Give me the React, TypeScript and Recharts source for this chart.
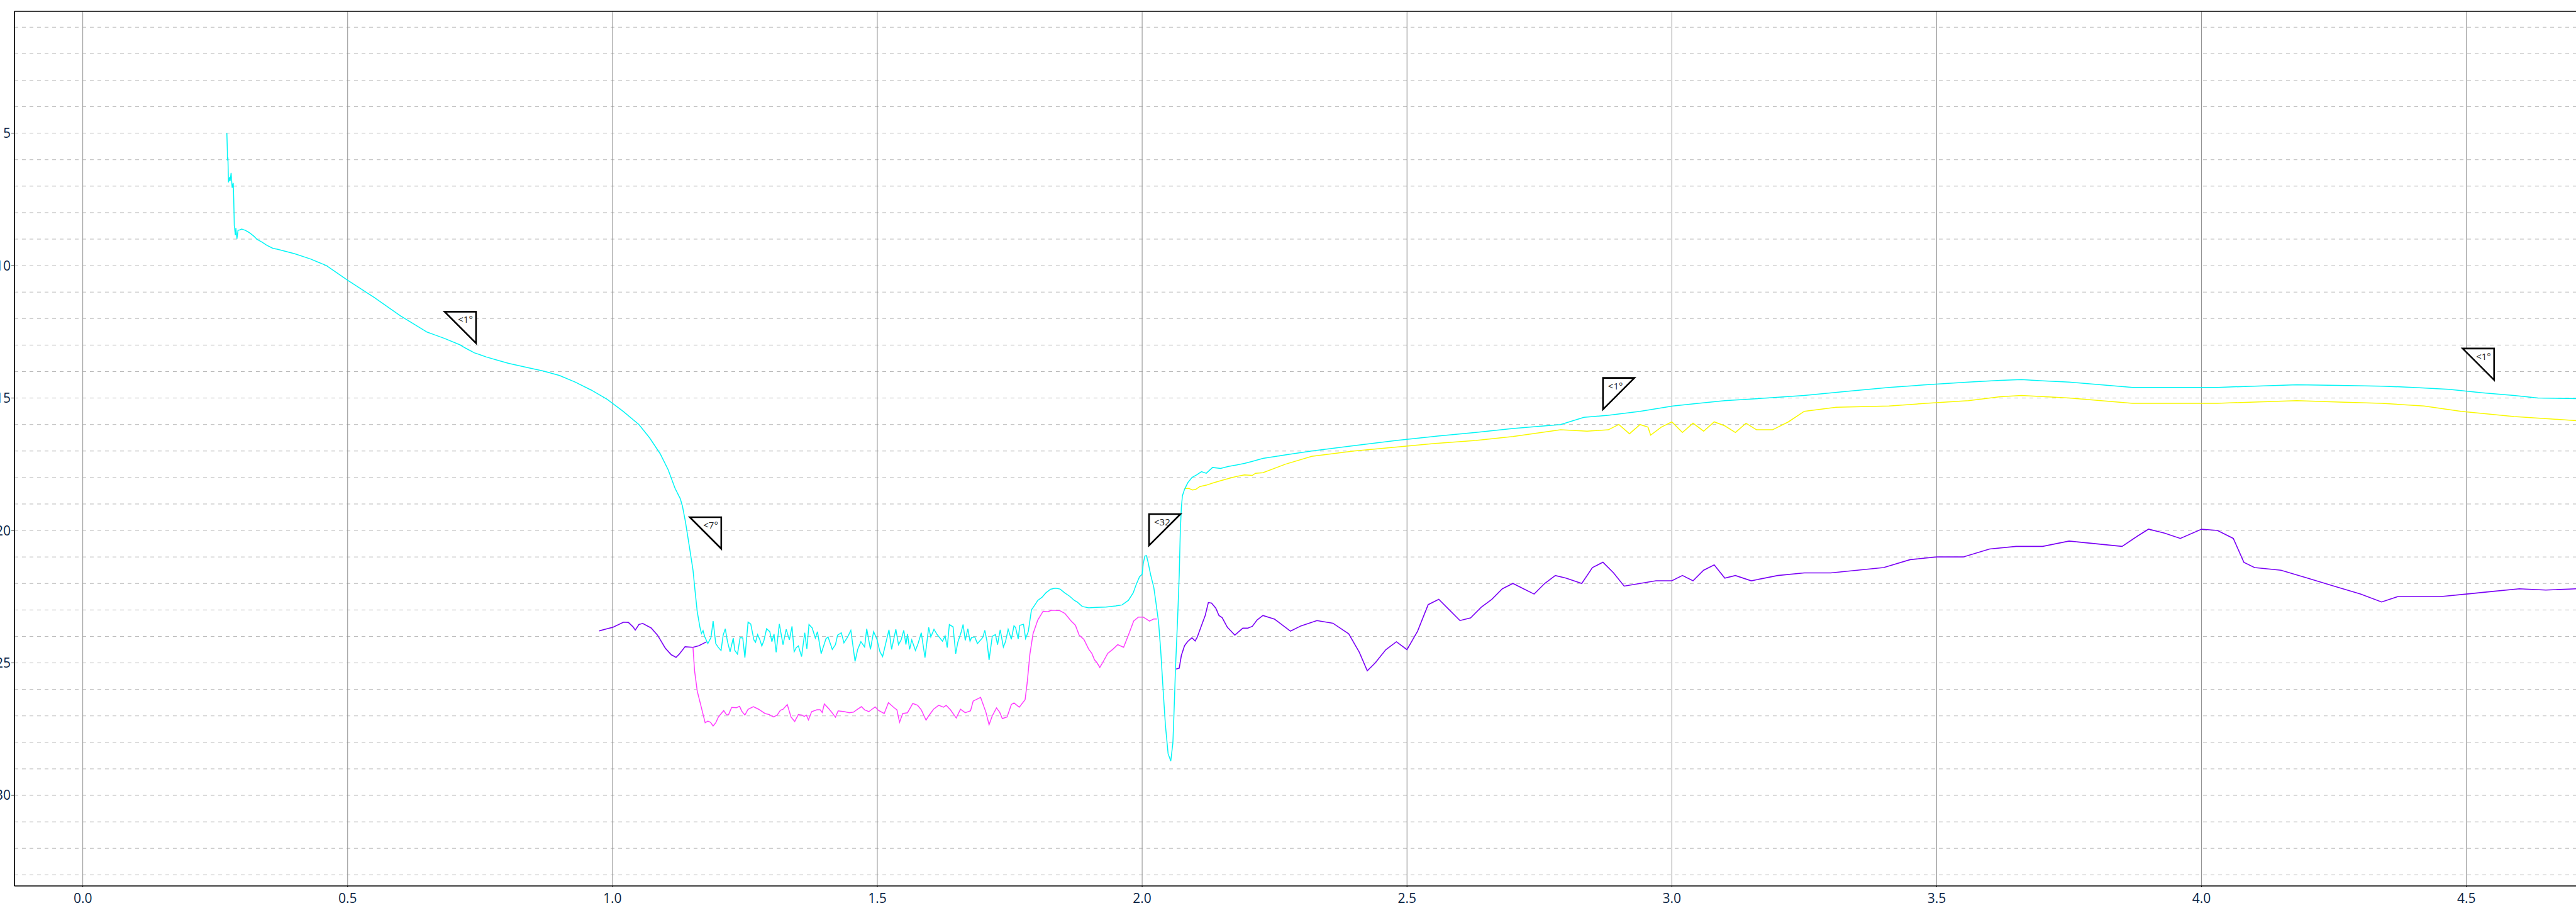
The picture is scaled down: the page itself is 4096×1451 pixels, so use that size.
import { ComposedChart, Line, XAxis, YAxis, CartesianGrid, ReferenceLine, ReferenceDot } from 'recharts';

const W = 4096;
const H = 1451;

const xTicks = [0, 0.5, 1, 1.5, 2, 2.5, 3, 3.5, 4, 4.5];
const yTicks = [5, 10, 15, 20, 25, 30];
const yGrid = [1, 2, 3, 4, 5, 6, 7, 8, 9, 10, 11, 12, 13, 14, 15, 16, 17, 18, 19, 20, 21, 22, 23, 24, 25, 26, 27, 28, 29, 30, 31, 32, 33];

// [x, y] pairs
const cyan = [
  [0.272, 5.0], [0.273, 5.72], [0.273, 6.03], [0.274, 5.92], [0.275, 6.86], [0.277, 6.66], [0.278, 6.81], [0.28, 6.5],
  [0.282, 7.06], [0.284, 6.88], [0.285, 7.51], [0.286, 8.49], [0.288, 8.85], [0.289, 8.58], [0.291, 8.99], [0.293, 8.67],
  [0.297, 8.65], [0.3, 8.62], [0.307, 8.67], [0.314, 8.75], [0.323, 8.89], [0.329, 9.01], [0.339, 9.12], [0.347, 9.23],
  [0.359, 9.35], [0.367, 9.38], [0.4, 9.55], [0.43, 9.75], [0.46, 10.0], [0.5, 10.55], [0.55, 11.2], [0.6, 11.9],
  [0.65, 12.51], [0.661, 12.59], [0.683, 12.75], [0.712, 12.99], [0.722, 13.11], [0.739, 13.29], [0.762, 13.45], [0.784, 13.58],
  [0.804, 13.69], [0.84, 13.85], [0.87, 13.98], [0.9, 14.15], [0.93, 14.4], [0.96, 14.7], [0.99, 15.05], [1.02, 15.5],
  [1.05, 16.0], [1.07, 16.5], [1.09, 17.1], [1.105, 17.7], [1.118, 18.4], [1.128, 18.8], [1.132, 19.07], [1.138, 19.7],
  [1.145, 20.59], [1.152, 21.49], [1.156, 22.3], [1.16, 23.06], [1.165, 23.64], [1.168, 23.89], [1.171, 23.78], [1.174, 24.0],
  [1.18, 24.27], [1.186, 24.04], [1.19, 23.42], [1.195, 24.27], [1.2, 24.42], [1.205, 24.53], [1.209, 23.95], [1.213, 23.71],
  [1.217, 24.18], [1.222, 24.58], [1.228, 24.06], [1.231, 24.53], [1.236, 24.67], [1.241, 24.04], [1.246, 24.06], [1.25, 24.8],
  [1.256, 23.46], [1.261, 23.53], [1.267, 24.13], [1.27, 24.22], [1.274, 23.93], [1.278, 24.11], [1.282, 24.36], [1.286, 24.15],
  [1.291, 23.71], [1.297, 23.82], [1.301, 24.2], [1.305, 23.91], [1.309, 24.6], [1.315, 23.53], [1.322, 24.31], [1.328, 23.73],
  [1.334, 24.13], [1.339, 23.62], [1.343, 24.58], [1.347, 24.42], [1.351, 24.36], [1.357, 24.76], [1.363, 23.86], [1.367, 24.47],
  [1.371, 23.55], [1.377, 23.68], [1.383, 24.06], [1.387, 23.82], [1.394, 24.65], [1.403, 24.09], [1.407, 24.02], [1.415, 24.49],
  [1.421, 24.31], [1.425, 23.95], [1.432, 23.86], [1.437, 24.24], [1.444, 24.02], [1.45, 23.77], [1.458, 24.94], [1.463, 24.49],
  [1.469, 24.2], [1.476, 24.4], [1.48, 23.71], [1.487, 24.49], [1.493, 23.82], [1.499, 24.09], [1.505, 24.58], [1.51, 24.76],
  [1.522, 23.75], [1.527, 24.49], [1.535, 23.73], [1.54, 24.31], [1.545, 24.13], [1.55, 23.77], [1.554, 24.31], [1.557, 23.91],
  [1.561, 24.49], [1.565, 24.13], [1.572, 24.53], [1.577, 24.27], [1.583, 23.86], [1.59, 24.8], [1.597, 23.66], [1.601, 24.02],
  [1.607, 23.73], [1.613, 23.93], [1.623, 24.18], [1.628, 23.98], [1.632, 24.42], [1.636, 23.55], [1.643, 23.64], [1.648, 24.65],
  [1.652, 24.22], [1.658, 23.86], [1.662, 23.55], [1.666, 24.15], [1.671, 23.71], [1.675, 24.18], [1.678, 24.04], [1.684, 24.02],
  [1.689, 24.27], [1.693, 24.18], [1.699, 24.04], [1.703, 23.77], [1.707, 24.18], [1.711, 24.89], [1.717, 24.0], [1.723, 23.93],
  [1.727, 24.31], [1.732, 23.75], [1.738, 24.4], [1.742, 24.2], [1.747, 23.73], [1.753, 24.11], [1.758, 23.6], [1.761, 23.66],
  [1.766, 24.1], [1.769, 23.58], [1.776, 23.54], [1.78, 24.08], [1.785, 23.82], [1.791, 23.0], [1.796, 22.85], [1.803, 22.64],
  [1.811, 22.52], [1.818, 22.36], [1.827, 22.22], [1.836, 22.18], [1.845, 22.21], [1.854, 22.36], [1.863, 22.48], [1.872, 22.64],
  [1.878, 22.71], [1.887, 22.87], [1.899, 22.92], [1.914, 22.9], [1.932, 22.89], [1.95, 22.85], [1.962, 22.81], [1.974, 22.64],
  [1.983, 22.36], [1.989, 22.03], [1.995, 21.75], [2.0, 21.65], [2.002, 21.26], [2.005, 20.97], [2.008, 20.95], [2.011, 21.18],
  [2.016, 21.67], [2.022, 22.15], [2.026, 22.72], [2.031, 23.46], [2.035, 24.52], [2.04, 26.15], [2.044, 27.37], [2.049, 28.43],
  [2.052, 28.59], [2.054, 28.71], [2.058, 28.02], [2.06, 26.96], [2.063, 25.17], [2.067, 23.3], [2.07, 21.67], [2.072, 20.04],
  [2.074, 19.14], [2.076, 18.69], [2.08, 18.45], [2.086, 18.2], [2.094, 18.0], [2.103, 17.9], [2.112, 17.78], [2.121, 17.84],
  [2.133, 17.62], [2.148, 17.66], [2.163, 17.58], [2.178, 17.53], [2.193, 17.47], [2.208, 17.39], [2.228, 17.28], [2.27, 17.15],
  [2.32, 17.0], [2.4, 16.8], [2.48, 16.6], [2.55, 16.45], [2.63, 16.3], [2.7, 16.15], [2.79, 16.0], [2.834, 15.73],
  [2.88, 15.65], [2.94, 15.5], [3.002, 15.3], [3.05, 15.2], [3.1, 15.1], [3.18, 15.0], [3.25, 14.9], [3.33, 14.75],
  [3.41, 14.6], [3.48, 14.5], [3.56, 14.4], [3.62, 14.33], [3.66, 14.3], [3.7, 14.35], [3.75, 14.4], [3.81, 14.5],
  [3.87, 14.6], [3.94, 14.6], [4.03, 14.6], [4.1, 14.55], [4.18, 14.5], [4.26, 14.52], [4.34, 14.55], [4.4, 14.6],
  [4.467, 14.67], [4.53, 14.8], [4.59, 14.9], [4.635, 15.0], [4.707, 15.02],
];

const magenta = [
  [1.152, 24.41], [1.155, 25.3], [1.16, 26.06], [1.175, 27.26], [1.18, 27.2], [1.185, 27.24], [1.19, 27.38], [1.195, 27.26],
  [1.2, 27.04], [1.21, 26.8], [1.215, 26.95], [1.219, 26.96], [1.225, 26.68], [1.234, 26.69], [1.24, 26.64], [1.244, 26.82],
  [1.25, 26.97], [1.256, 26.75], [1.266, 26.65], [1.276, 26.75], [1.288, 26.91], [1.296, 26.95], [1.304, 27.04], [1.311, 26.97],
  [1.317, 26.79], [1.322, 26.75], [1.33, 26.57], [1.337, 27.04], [1.344, 27.21], [1.351, 26.95], [1.358, 26.97], [1.362, 27.02],
  [1.366, 26.97], [1.37, 27.15], [1.376, 26.84], [1.386, 26.77], [1.392, 26.77], [1.396, 26.87], [1.4, 26.55], [1.407, 26.7],
  [1.413, 26.84], [1.421, 27.05], [1.426, 26.81], [1.438, 26.84], [1.447, 26.88], [1.455, 26.86], [1.461, 26.77], [1.47, 26.65],
  [1.476, 26.77], [1.484, 26.84], [1.496, 26.66], [1.502, 26.79], [1.513, 26.91], [1.521, 26.5], [1.531, 26.68], [1.537, 26.77],
  [1.542, 27.24], [1.548, 26.91], [1.557, 26.88], [1.567, 26.53], [1.576, 26.6], [1.583, 26.77], [1.592, 27.16], [1.597, 27.0],
  [1.606, 26.75], [1.616, 26.6], [1.625, 26.67], [1.63, 26.6], [1.638, 26.77], [1.649, 27.08], [1.657, 26.75], [1.666, 26.88],
  [1.676, 26.81], [1.681, 26.44], [1.695, 26.3], [1.705, 26.86], [1.711, 27.33], [1.717, 27.0], [1.725, 26.7], [1.731, 26.86],
  [1.736, 27.1], [1.745, 27.04], [1.753, 26.57], [1.758, 26.51], [1.768, 26.67], [1.779, 26.39], [1.783, 25.74], [1.788, 24.68],
  [1.794, 23.9], [1.803, 23.38], [1.813, 23.05], [1.822, 23.07], [1.829, 23.01], [1.845, 23.03], [1.854, 23.13], [1.866, 23.42],
  [1.874, 23.58], [1.881, 23.95], [1.89, 24.11], [1.899, 24.48], [1.905, 24.64], [1.91, 24.88], [1.915, 25.0], [1.92, 25.17],
  [1.924, 25.04], [1.935, 24.64], [1.945, 24.48], [1.954, 24.31], [1.965, 24.41], [1.975, 23.9], [1.984, 23.42], [1.993, 23.27],
  [2.002, 23.27], [2.014, 23.42], [2.022, 23.34], [2.028, 23.34],
];

const purpleEarly = [
  [0.975, 23.79], [0.992, 23.7], [1.0, 23.66], [1.021, 23.46], [1.03, 23.47], [1.039, 23.64], [1.043, 23.76], [1.05, 23.55],
  [1.057, 23.51], [1.073, 23.68], [1.085, 23.95], [1.1, 24.45], [1.111, 24.69], [1.12, 24.79], [1.126, 24.67], [1.137, 24.39],
  [1.152, 24.41], [1.163, 24.35], [1.178, 24.2],
];

const purpleLate = [
  [2.064, 25.23], [2.07, 25.2], [2.074, 24.72], [2.08, 24.35], [2.086, 24.19], [2.094, 24.05], [2.1, 24.17], [2.104, 24.03],
  [2.11, 23.7], [2.119, 23.21], [2.125, 22.72], [2.131, 22.74], [2.139, 22.93], [2.145, 23.21], [2.151, 23.29], [2.161, 23.66],
  [2.175, 23.95], [2.19, 23.69], [2.199, 23.69], [2.208, 23.62], [2.217, 23.38], [2.228, 23.21], [2.25, 23.35], [2.28, 23.8],
  [2.3, 23.6], [2.33, 23.4], [2.36, 23.5], [2.39, 23.9], [2.41, 24.6], [2.425, 25.3], [2.44, 25.0], [2.46, 24.5],
  [2.48, 24.2], [2.5, 24.5], [2.52, 23.8], [2.54, 22.8], [2.56, 22.6], [2.58, 23.0], [2.6, 23.4], [2.62, 23.3],
  [2.64, 22.9], [2.66, 22.6], [2.68, 22.2], [2.7, 22.0], [2.72, 22.2], [2.74, 22.4], [2.76, 22.0], [2.78, 21.7],
  [2.8, 21.8], [2.83, 22.0], [2.85, 21.4], [2.87, 21.2], [2.89, 21.6], [2.91, 22.1], [2.94, 22.0], [2.97, 21.9],
  [3.0, 21.9], [3.02, 21.7], [3.04, 21.9], [3.06, 21.5], [3.08, 21.3], [3.1, 21.8], [3.12, 21.7], [3.15, 21.9],
  [3.2, 21.7], [3.25, 21.6], [3.3, 21.6], [3.35, 21.5], [3.4, 21.4], [3.45, 21.1], [3.5, 21.0], [3.55, 21.0],
  [3.6, 20.7], [3.65, 20.6], [3.7, 20.6], [3.75, 20.4], [3.8, 20.5], [3.85, 20.6], [3.88, 20.2], [3.9, 19.95],
  [3.93, 20.1], [3.96, 20.3], [4.0, 19.95], [4.03, 20.0], [4.06, 20.3], [4.08, 21.2], [4.1, 21.4], [4.15, 21.5],
  [4.2, 21.8], [4.25, 22.1], [4.3, 22.4], [4.34, 22.7], [4.37, 22.5], [4.4, 22.5], [4.45, 22.5], [4.5, 22.4],
  [4.55, 22.3], [4.6, 22.2], [4.65, 22.25], [4.707, 22.2],
];

const yellow = [
  [2.08, 18.41], [2.088, 18.41], [2.095, 18.47], [2.101, 18.45], [2.109, 18.34], [2.121, 18.29], [2.133, 18.21], [2.148, 18.12],
  [2.163, 18.04], [2.178, 17.96], [2.193, 17.9], [2.208, 17.92], [2.214, 17.84], [2.228, 17.82], [2.27, 17.5], [2.32, 17.2],
  [2.4, 17.0], [2.48, 16.85], [2.55, 16.72], [2.63, 16.6], [2.7, 16.45], [2.79, 16.2], [2.84, 16.25], [2.88, 16.2],
  [2.9, 16.0], [2.92, 16.35], [2.94, 16.0], [2.955, 16.1], [2.96, 16.4], [2.98, 16.1], [3.0, 15.9], [3.02, 16.3],
  [3.04, 15.95], [3.06, 16.25], [3.08, 15.9], [3.1, 16.05], [3.12, 16.3], [3.14, 15.95], [3.16, 16.2], [3.19, 16.2],
  [3.22, 15.9], [3.25, 15.5], [3.31, 15.35], [3.41, 15.3], [3.48, 15.2], [3.56, 15.1], [3.62, 14.95], [3.66, 14.9],
  [3.75, 15.0], [3.87, 15.2], [3.95, 15.2], [4.03, 15.2], [4.1, 15.15], [4.18, 15.1], [4.26, 15.15], [4.34, 15.2],
  [4.42, 15.3], [4.49, 15.5], [4.59, 15.7], [4.707, 15.85],
];

// angle flags: anchor is the top-left corner of the flag's box
const flagX = [0.683, 1.146, 2.013, 2.87, 4.493];
const flagY = [11.74, 19.5, 19.38, 14.24, 13.13];
const flagText = ['<1°', '<7°', '<32', '<1°', '<1°'];
const flagSide = ['left', 'left', 'right', 'right', 'left'];

const pts = (a: number[][]) => a.map(([x, y]) => ({ x, y }));

const font = '"Open Sans", "Noto Sans", sans-serif';
const tickStyle = { fill: '#0b2545', fontSize: 21, fontFamily: font };

function Flag({ cx, cy, text, side }: { cx: number; cy: number; text: string; side: string }) {
  const s = 50;
  const pointsStr = side === 'left'
    ? `${cx},${cy} ${cx + s},${cy} ${cx + s},${cy + s}`
    : `${cx},${cy} ${cx + s},${cy} ${cx},${cy + s}`;
  return (
    <g>
      <polygon points={pointsStr} fill="#fff" stroke="#000" strokeWidth={2.6} strokeLinejoin="miter" strokeMiterlimit={10} />
      <text
        x={side === 'left' ? cx + s - 5 : cx + 8}
        y={cy + 18}
        textAnchor={side === 'left' ? 'end' : 'start'}
        fontSize={15}
        fontFamily={font}
        fill="#222"
      >
        {text}
      </text>
    </g>
  );
}

export default function App() {
  return (
    <div style={{ position: 'fixed', left: 0, top: 0, width: W, height: H, background: '#fff' }}>
      <ComposedChart width={W} height={H} margin={{ top: 18, right: 0, bottom: 0, left: 0 }}>
        <CartesianGrid horizontal={true} vertical={false} horizontalValues={yGrid} stroke="#b9b9b9" strokeDasharray="6 6" />
        <CartesianGrid horizontal={false} vertical={true} verticalValues={xTicks} stroke="#8e8e8e" />
        <XAxis
          type="number"
          dataKey="x"
          domain={[-0.129, 4.707]}
          allowDataOverflow
          ticks={xTicks}
          tickFormatter={(v: number) => v.toFixed(1)}
          height={43}
          tickSize={2}
          tickMargin={10}
          tick={tickStyle}
          axisLine={{ stroke: '#000', strokeWidth: 1.7 }}
          tickLine={{ stroke: '#000' }}
        />
        <YAxis
          type="number"
          reversed
          domain={[0.4, 33.42]}
          allowDataOverflow
          ticks={yTicks}
          width={23}
          tickSize={5}
          tickMargin={1}
          tick={tickStyle}
          axisLine={{ stroke: '#000', strokeWidth: 1.7 }}
          tickLine={{ stroke: '#333' }}
        />
        <ReferenceLine y={0.4} stroke="#000" strokeWidth={1.7} />
        <Line data={pts(purpleEarly)} dataKey="y" stroke="#7a00f5" strokeWidth={1.6} dot={false} isAnimationActive={false} type="linear" />
        <Line data={pts(purpleLate)} dataKey="y" stroke="#7a00f5" strokeWidth={1.6} dot={false} isAnimationActive={false} type="linear" />
        <Line data={pts(magenta)} dataKey="y" stroke="#ff3cff" strokeWidth={1.5} dot={false} isAnimationActive={false} type="linear" />
        <Line data={pts(yellow)} dataKey="y" stroke="#f8f800" strokeWidth={1.5} dot={false} isAnimationActive={false} type="linear" />
        <Line data={pts(cyan)} dataKey="y" stroke="#00f5f5" strokeWidth={1.5} dot={false} isAnimationActive={false} type="linear" />
        {flagX.map((fx, i) => (
          <ReferenceDot
            key={i}
            x={fx}
            y={flagY[i]}
            r={0}
            ifOverflow="visible"
            shape={(p: any) => <Flag cx={p.cx} cy={p.cy} text={flagText[i]} side={flagSide[i]} />}
          />
        ))}
      </ComposedChart>
    </div>
  );
}
